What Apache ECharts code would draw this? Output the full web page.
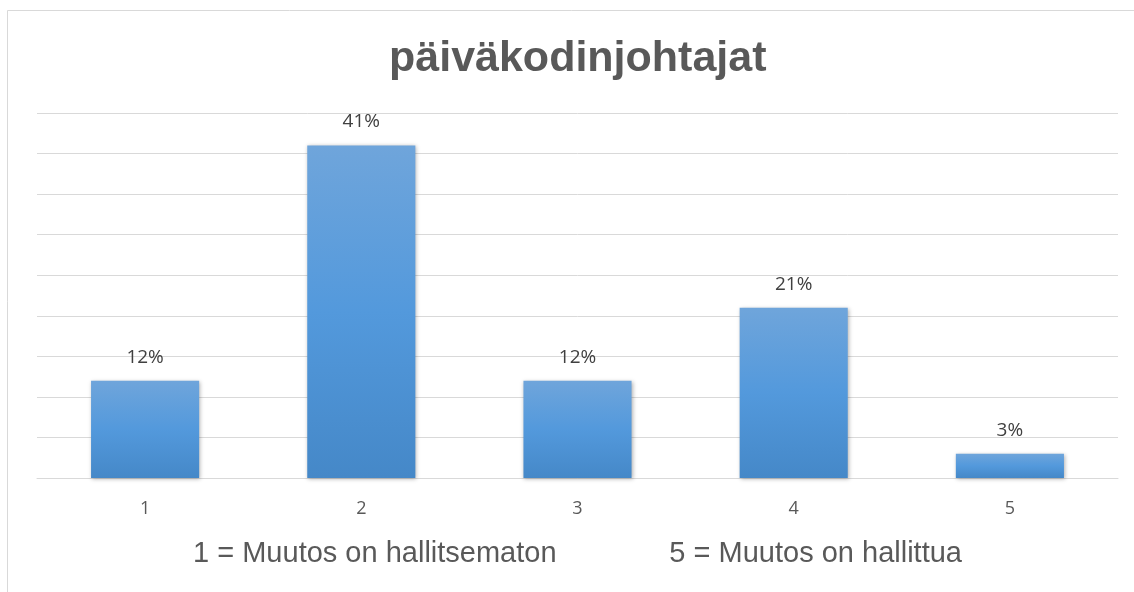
<!DOCTYPE html>
<html>
<head>
<meta charset="utf-8">
<script src="https://cdn.jsdelivr.net/npm/echarts@6/dist/echarts.min.js"></script>
<style>
  html, body { margin: 0; padding: 0; background: #fff; }
  #main { width: 1134px; height: 592px; }
</style>
</head>
<body>
<div id="main"></div>
<script>
// data
var categories = ['1', '2', '3', '4', '5'];
var shares = [12, 41, 12, 21, 3];
var axisTitle = '1 = Muutos on hallitsematon              5 = Muutos on hallittua';

var chart = echarts.init(document.getElementById('main'));

var barFill = new echarts.graphic.LinearGradient(0, 0, 0, 1, [
  { offset: 0, color: '#6fa5db' },
  { offset: 0.5, color: '#5399dc' },
  { offset: 1, color: '#4588c8' }
]);

var option = {
  backgroundColor: '#fff',
  animation: false,
  title: {
    text: 'päiväkodinjohtajat',
    left: 389,
    top: 38,
    padding: 0,
    textStyle: {
      fontFamily: 'Liberation Sans',
      fontSize: 43,
      fontWeight: 'bold',
      color: '#595959'
    }
  },
  graphic: [{
    type: 'rect',
    shape: { x: 7.5, y: 10.5, width: 1300, height: 700 },
    style: { fill: 'none', stroke: '#d9d9d9', lineWidth: 1 },
    silent: true
  }],
  grid: { left: 37, right: 16, top: 113, bottom: 114 },
  xAxis: {
    type: 'category',
    data: categories,
    axisLine: { lineStyle: { color: '#d9d9d9', width: 1 } },
    axisTick: { show: false },
    axisLabel: {
      margin: 22,
      fontFamily: 'Open Sans',
      fontSize: 18,
      color: '#595959'
    },
    name: axisTitle,
    nameLocation: 'middle',
    nameGap: 61,
    nameTextStyle: {
      fontFamily: 'Liberation Sans',
      fontSize: 29,
      color: '#595959'
    }
  },
  yAxis: {
    type: 'value',
    min: 0,
    max: 45,
    interval: 5,
    axisLine: { show: false },
    axisTick: { show: false },
    axisLabel: { show: false },
    splitLine: { lineStyle: { color: '#d9d9d9', width: 1 } }
  },
  series: [{
    type: 'bar',
    data: shares,
    barWidth: '50%',
    itemStyle: {
      color: barFill,
      shadowBlur: 4,
      shadowColor: 'rgba(0,0,0,0.3)',
      shadowOffsetX: 1,
      shadowOffsetY: 1
    },
    label: {
      show: true,
      position: 'top',
      distance: 14,
      formatter: '{c}%',
      fontFamily: 'Open Sans',
      fontSize: 19,
      color: '#404040'
    }
  }]
};

chart.setOption(option);
</script>
</body>
</html>
